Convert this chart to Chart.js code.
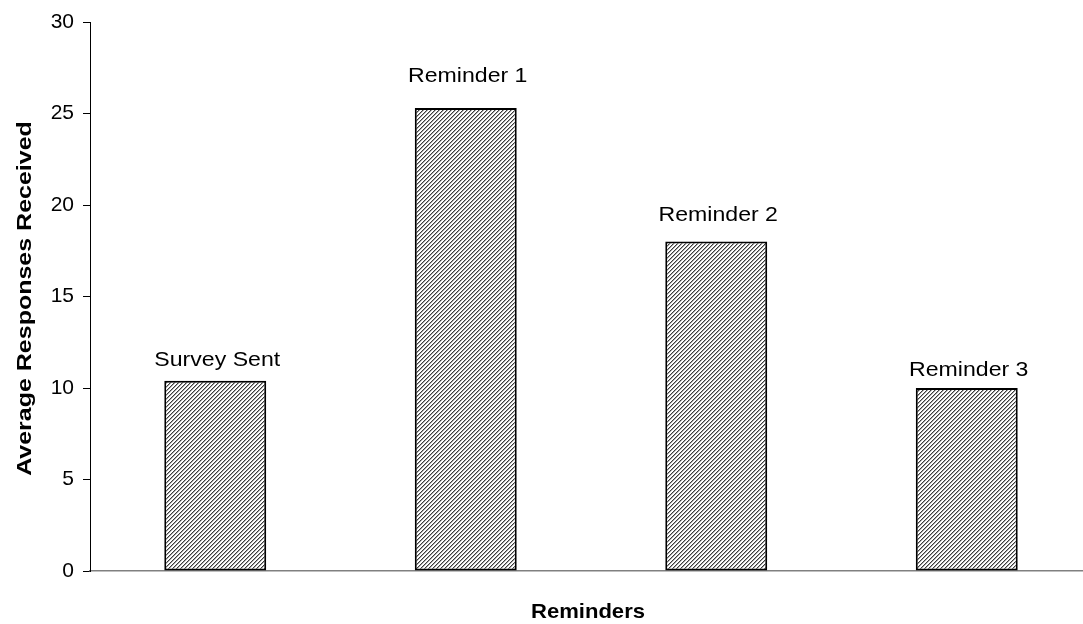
<!DOCTYPE html>
<html>
<head>
<meta charset="utf-8">
<script src="https://cdn.jsdelivr.net/npm/chart.js@4/dist/chart.umd.min.js"></script>
<style>
  html, body { margin: 0; padding: 0; background: #fff; overflow: hidden; }
  #wrap { width: 1093px; height: 624px; }
</style>
</head>
<body>
<div id="wrap"><canvas id="c" width="1093" height="624"></canvas></div>
<script>
// Stage of the mailing and the average number of responses received after it
const categories = ['Survey Sent', 'Reminder 1', 'Reminder 2', 'Reminder 3'];
const responses = [10.4, 25.3, 18.0, 10.0];
const yTicks = [0, 5, 10, 15, 20, 25, 30];
const xTitle = 'Reminders';
const yTitle = 'Average Responses Received';

// Space between each label's baseline and the top of its bar
const labelGap = [15, 26, 21, 12];

const FONT = '"Liberation Sans", Arial, Helvetica, sans-serif';

// Diagonal hatch fill for the bars
function hatchPattern() {
  const t = document.createElement('canvas');
  t.width = 4; t.height = 4;
  const g = t.getContext('2d');
  g.fillStyle = '#fff';
  g.fillRect(0, 0, 4, 4);
  for (let x = 0; x < 4; x++) {
    for (let y = 0; y < 4; y++) {
      const k = (x + y) % 4;
      if (k === 0) { g.fillStyle = '#3c3c3c'; g.fillRect(x, y, 1, 1); }
      else if (k === 1) { g.fillStyle = '#a8a8a8'; g.fillRect(x, y, 1, 1); }
    }
  }
  return g.createPattern(t, 'repeat');
}

// Text drawn slightly widened along its reading direction
function wideText(ctx, text, x, y, angle, stretch, font) {
  ctx.save();
  ctx.translate(x, y);
  ctx.rotate(angle);
  ctx.scale(stretch, 1);
  ctx.font = font;
  ctx.fillStyle = '#000';
  ctx.textAlign = 'center';
  ctx.textBaseline = 'alphabetic';
  ctx.fillText(text, 0, 0);
  ctx.restore();
}

// Category names above each bar, plus both axis titles
const chartText = {
  id: 'chartText',
  afterDraw(chart) {
    const ctx = chart.ctx;
    const meta = chart.getDatasetMeta(0);
    meta.data.forEach((bar, i) => {
      wideText(ctx, categories[i], bar.x + 2, bar.y - labelGap[i], 0, 1.1, '21px ' + FONT);
    });
    const area = chart.chartArea;
    wideText(ctx, xTitle, (area.left + area.right) / 2 - 3, 618, 0, 1.05, 'bold 21px ' + FONT);
    wideText(ctx, yTitle, 31, (area.top + area.bottom) / 2 + 2, -Math.PI / 2, 1.19, 'bold 21px ' + FONT);
  }
};

new Chart(document.getElementById('c'), {
  type: 'bar',
  data: {
    labels: categories,
    datasets: [{
      data: responses,
      backgroundColor: hatchPattern(),
      borderColor: '#000',
      borderWidth: 2,
      borderSkipped: false,
      barPercentage: 0.407,
      categoryPercentage: 1.0
    }]
  },
  options: {
    responsive: false,
    animation: false,
    devicePixelRatio: 1,
    layout: { padding: { top: 22, right: 1, left: 0, bottom: 0 } },
    plugins: {
      legend: { display: false },
      tooltip: { enabled: false }
    },
    scales: {
      x: {
        grid: { display: false },
        border: { display: true, color: '#808080', width: 1.5 },
        ticks: { display: false },
        afterFit(scale) { scale.height = 53; }
      },
      y: {
        min: 0,
        max: 30,
        afterBuildTicks(scale) { scale.ticks = yTicks.map(v => ({ value: v })); },
        grid: { drawOnChartArea: false, drawTicks: true, tickLength: 7, color: '#000', tickWidth: 1 },
        border: { display: true, color: '#000', width: 1 },
        ticks: {
          color: '#000',
          padding: 9,
          font: { family: FONT, size: 21 }
        },
        afterFit(scale) { scale.width = 90; }
      }
    }
  },
  plugins: [chartText]
});
</script>
</body>
</html>
